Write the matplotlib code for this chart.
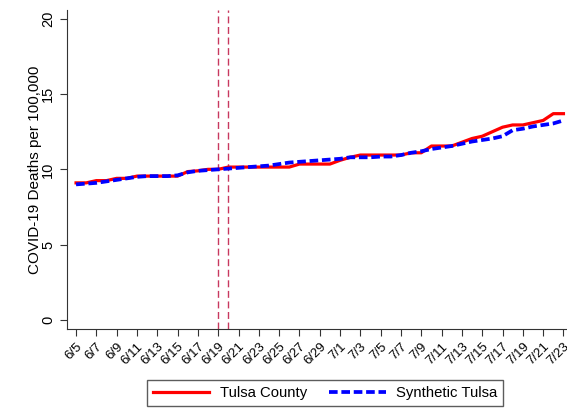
import numpy as np
import matplotlib.pyplot as plt

plt.rcParams['font.family'] = ['Liberation Sans', 'DejaVu Sans']

# days from 6/5 to 7/23
dates = ['6/5', '6/6', '6/7', '6/8', '6/9', '6/10', '6/11', '6/12', '6/13', '6/14',
         '6/15', '6/16', '6/17', '6/18', '6/19', '6/20', '6/21', '6/22', '6/23', '6/24',
         '6/25', '6/26', '6/27', '6/28', '6/29', '6/30', '7/1', '7/2', '7/3', '7/4',
         '7/5', '7/6', '7/7', '7/8', '7/9', '7/10', '7/11', '7/12', '7/13', '7/14',
         '7/15', '7/16', '7/17', '7/18', '7/19', '7/20', '7/21', '7/22', '7/23']

tulsa = [9.1, 9.1, 9.25, 9.25, 9.4, 9.4, 9.55, 9.55, 9.55, 9.55,
         9.55, 9.85, 9.9, 10.0, 10.0, 10.15, 10.15, 10.15, 10.15, 10.15,
         10.15, 10.15, 10.35, 10.35, 10.35, 10.35, 10.6, 10.8, 10.95, 10.95,
         10.95, 10.95, 10.95, 11.1, 11.1, 11.55, 11.55, 11.55, 11.8, 12.05,
         12.2, 12.5, 12.8, 12.95, 12.95, 13.1, 13.25, 13.7, 13.7]

synthetic = [9.0, 9.05, 9.1, 9.2, 9.3, 9.4, 9.5, 9.55, 9.55, 9.55,
             9.6, 9.8, 9.9, 9.95, 10.0, 10.05, 10.1, 10.15, 10.2, 10.25,
             10.35, 10.45, 10.5, 10.55, 10.6, 10.65, 10.7, 10.8, 10.8, 10.8,
             10.85, 10.85, 10.95, 11.1, 11.2, 11.35, 11.45, 11.55, 11.7, 11.85,
             11.95, 12.05, 12.2, 12.6, 12.7, 12.85, 12.95, 13.05, 13.25]

event_dates = ['6/19', '6/20']

x = np.arange(len(dates))

fig = plt.figure(figsize=(5.67, 4.11), dpi=100)
ax = fig.add_axes([0.118, 0.2, 0.882, 0.776])

for d in event_dates:
    ax.axvline(dates.index(d), color='#c8385f', lw=1.0, ls=(0, (5, 2.6)))

ax.plot(x, tulsa, color='#ff0000', lw=2.3, label='Tulsa County')
ax.plot(x, synthetic, color='#0000ff', lw=2.7, ls=(0, (2.3, 1.0)), label='Synthetic Tulsa')

ax.set_xlim(-0.9, 48.35)
ax.set_ylim(-0.6, 20.6)
ax.set_xticks(x[::2])
ax.set_xticklabels(dates[::2], rotation=45, ha='right', rotation_mode='anchor', fontsize=9.5)
ax.set_yticks([0, 5, 10, 15, 20])
ax.set_yticklabels(['0', '5', '10', '15', '20'], rotation=90, va='center', fontsize=10.5)
ax.set_ylabel('COVID-19 Deaths per 100,000', fontsize=11, labelpad=-1)

for s in ['top', 'right']:
    ax.spines[s].set_visible(False)
for s in ['left', 'bottom']:
    ax.spines[s].set_color('#333333')
ax.tick_params(colors='#333333', length=5, labelcolor='black')

leg = fig.legend(loc='center', bbox_to_anchor=(325 / 567, 1 - 393 / 411), ncol=2,
                 fontsize=10.7, frameon=True, fancybox=False, edgecolor='#333333',
                 handlelength=3.8, handletextpad=0.7, columnspacing=1.5, borderpad=0.4)
leg.get_frame().set_linewidth(1.0)

fig.savefig('out.png', dpi=100)
